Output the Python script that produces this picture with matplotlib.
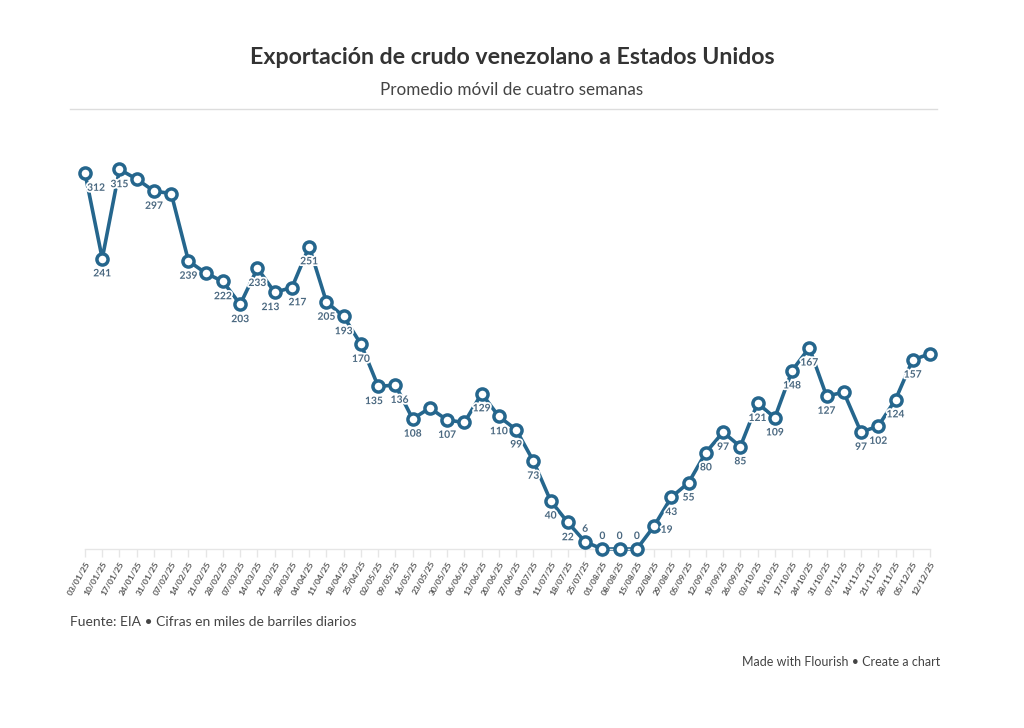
import matplotlib
matplotlib.use("Agg")
import matplotlib.pyplot as plt
import matplotlib.patheffects as pe

dates = ["03/01/25","10/01/25","17/01/25","24/01/25","31/01/25","07/02/25","14/02/25","21/02/25",
         "28/02/25","07/03/25","14/03/25","21/03/25","28/03/25","04/04/25","11/04/25","18/04/25",
         "25/04/25","02/05/25","09/05/25","16/05/25","23/05/25","30/05/25","06/06/25","13/06/25",
         "20/06/25","27/06/25","04/07/25","11/07/25","18/07/25","25/07/25","01/08/25","08/08/25",
         "15/08/25","22/08/25","29/08/25","05/09/25","12/09/25","19/09/25","26/09/25","03/10/25",
         "10/10/25","17/10/25","24/10/25","31/10/25","07/11/25","14/11/25","21/11/25","28/11/25",
         "05/12/25","12/12/25"]
values = [312, 241, 315, 307, 297, 295, 239, 229, 222, 203, 233, 213, 217, 251, 205, 193,
          170, 135, 136, 108, 117, 107, 105, 129, 110, 99, 73, 40, 22, 6, 0, 0,
          0, 19, 43, 55, 80, 97, 85, 121, 109, 148, 167, 127, 130, 97, 102, 124,
          157, 162]
unlabeled = {3, 5, 7, 20, 22, 44, 49}

W, H = 1024, 728
fig = plt.figure(figsize=(W/100, H/100), dpi=100)
fig.patch.set_facecolor("white")

FONT = ["Lato", "DejaVu Sans"]
plt.rcParams["font.family"] = FONT

x0, x1 = 85, 930
ybot = 549
scale = 1.205
ytop_val = 330
ytop = ybot - ytop_val * scale
ax = fig.add_axes([x0/W, 1-ybot/H, (x1-x0)/W, (ybot-ytop)/H])
n = len(values)
xs = list(range(n))
color = "#25668d"
ax.plot(xs, values, color=color, lw=2.6, zorder=2, clip_on=False, solid_joinstyle="round")
ax.plot(xs, values, "o", ms=8, mfc="white", mec=color, mew=2.5, zorder=3, clip_on=False)
ax.set_xlim(0, n-1)
ax.set_ylim(0, ytop_val)
for s in ["left", "right", "top"]:
    ax.spines[s].set_visible(False)
ax.spines["bottom"].set_color("#e6e6e6")
ax.spines["bottom"].set_linewidth(1)
ax.set_yticks([])
ax.set_xticks(xs)
ax.set_xticklabels(dates, rotation=60, ha="right", va="top", rotation_mode="anchor",
                   fontsize=6.1, fontweight="bold", color="#555555")
ax.tick_params(axis="x", length=6, color="#e6e6e6", width=1, pad=2)

lab_color = "#4a6880"
offsets = {0: (8, -11), 2: (0, -11), 29: (0, 9), 30: (0, 9), 31: (0, 9), 32: (0, 9), 33: (9, -3),
           10: (0, -11), 11: (-3, -11), 12: (4, -11), 17: (-3, -11), 18: (3, -11)}
for i, v in enumerate(values):
    if i in unlabeled:
        continue
    dx, dy = offsets.get(i, (0, -11))
    ax.annotate(str(v), (i, v), xytext=(dx, dy), textcoords="offset points",
                ha="center", va="center", fontsize=7.4, fontweight="bold", color=lab_color,
                zorder=4, annotation_clip=False,
                path_effects=[pe.withStroke(linewidth=2.5, foreground="white")])

fig.text(0.5, 1-58/H, "Exportación de crudo venezolano a Estados Unidos", ha="center", va="center",
         fontsize=16.7, fontweight="bold", color="#333333")
fig.text(0.5, 1-90/H, "Promedio móvil de cuatro semanas", ha="center", va="center",
         fontsize=12.3, color="#444444")
fig.add_artist(plt.Line2D([70/W, 937/W], [1-109/H, 1-109/H], color="#dddddd", lw=1))
fig.text(70/W, 1-622/H, "Fuente: EIA • Cifras en miles de barriles diarios", ha="left", va="center",
         fontsize=10, color="#444444")
fig.text(940/W, 1-662/H, "Made with Flourish • Create a chart", ha="right", va="center",
         fontsize=9, color="#444444")

fig.savefig("out.png", dpi=100, facecolor="white")
